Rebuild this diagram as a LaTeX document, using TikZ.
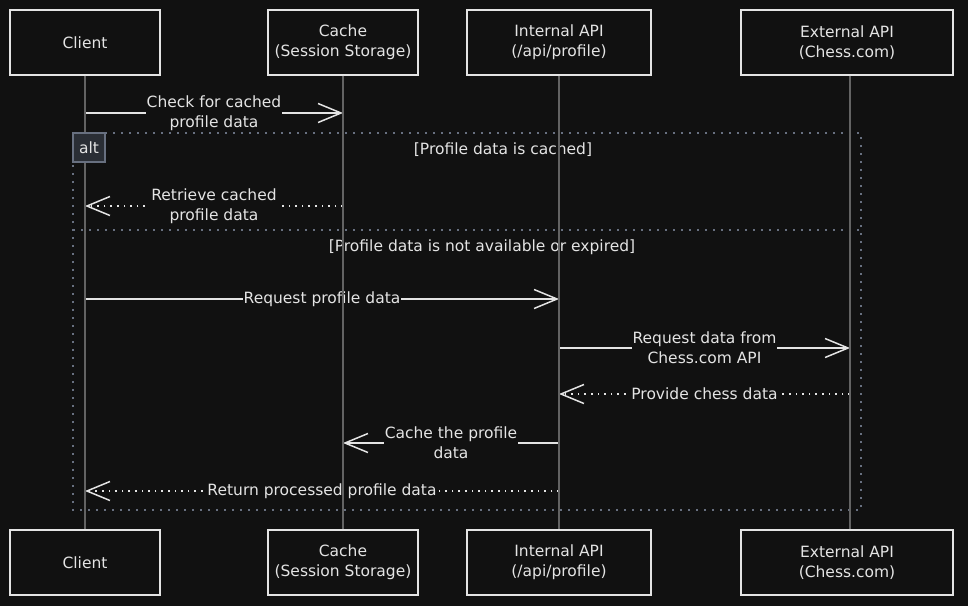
\documentclass[tikz,border=0pt]{standalone}
\usepackage{fontspec}
\setmainfont{DejaVu Sans}
\usepackage{tikz}
\usetikzlibrary{arrows.meta}
\definecolor{bg}{HTML}{111111}
\definecolor{ink}{HTML}{E4E4E4}
\definecolor{lifegray}{HTML}{636363}
\definecolor{framegray}{HTML}{687080}
\definecolor{altfill}{HTML}{2A2E35}
\tikzstyle{actor}=[draw=ink, fill=bg, line width=1.2pt, minimum height=65pt, align=center, text=ink]
\tikzstyle{lifeline}=[draw=lifegray, line width=1.1pt]
\tikzstyle{msg}=[->, color=ink, line width=1.5pt]
\tikzstyle{reply}=[msg, dash pattern=on 1.6pt off 5pt]
\tikzstyle{lbl}=[fill=bg, text=ink, align=center, inner sep=1pt]
\tikzstyle{frame}=[draw=framegray, line width=2pt, dash pattern=on 2pt off 6pt]

\begin{document}
\begin{tikzpicture}[x=1pt,y=-1pt,font=\fontsize{15.5}{20}\selectfont,
  >={Straight Barb[length=23pt,width=19pt,line width=1.5pt]}]
    \useasboundingbox[fill=bg] (0,0) rectangle (968,606);
    % participants, top and bottom
    \node [actor, minimum width=150pt] (client) at (85,42.5) {Client};
    \node [actor, minimum width=150pt] (cache) at (343,42.5) {Cache\\(Session Storage)};
    \node [actor, minimum width=184pt] (internal) at (559,42.5) {Internal API\\(/api/profile)};
    \node [actor, minimum width=212pt] (external) at (847,42.5) {External API\\(Chess.com)};
    \node [actor, minimum width=150pt] (clientB) at (85,562.5) {Client};
    \node [actor, minimum width=150pt] (cacheB) at (343,562.5) {Cache\\(Session Storage)};
    \node [actor, minimum width=184pt] (internalB) at (559,562.5) {Internal API\\(/api/profile)};
    \node [actor, minimum width=212pt] (externalB) at (847,562.5) {External API\\(Chess.com)};
    % points on the lifelines
    \coordinate (cl1) at (85,113);  \coordinate (ca1) at (343,113);
    \coordinate (cl2) at (85,206);  \coordinate (ca2) at (343,206);
    \coordinate (cl3) at (85,299);  \coordinate (in3) at (559,299);
    \coordinate (in4) at (559,348); \coordinate (ex4) at (850,348);
    \coordinate (in5) at (559,394); \coordinate (ex5) at (850,394);
    \coordinate (ca6) at (343,443); \coordinate (in6) at (559,443);
    \coordinate (cl7) at (85,491);  \coordinate (in7) at (559,491);
    % alt frame
    \draw [frame] (73,133) rectangle (861,510);
    \coordinate (sepL) at (73,230);
    \coordinate (sepR) at (861,230);
    \draw [frame] (sepL) -- (sepR);
    \node [text=ink] (cond1) at (503,150) {[Profile data is cached]};
    \node [text=ink] (cond2) at (482,247) {[Profile data is not available or expired]};
    % messages
    \path [msg] (cl1) edge node [lbl] {Check for cached\\profile data} (ca1);
    \path [reply] (ca2) edge node [lbl] {Retrieve cached\\profile data} (cl2);
    \path [msg] (cl3) edge node [lbl] {Request profile data} (in3);
    \path [msg] (in4) edge node [lbl] {Request data from\\Chess.com API} (ex4);
    \path [reply] (ex5) edge node [lbl] {Provide chess data} (in5);
    \path [msg] (in6) edge node [lbl] {Cache the profile\\data} (ca6);
    \path [reply] (in7) edge node [lbl] {Return processed profile data} (cl7);
    % lifelines
    \draw [lifeline] (client) -- (clientB);
    \draw [lifeline] (cache) -- (cacheB);
    \draw [lifeline] (internal) -- (internalB);
    \draw [lifeline] (external.south -| ex4) -- (externalB.north -| ex4);
    % alt tag on top
    \node [draw=framegray, fill=altfill, line width=1.2pt, text=ink, minimum width=32pt, minimum height=29pt, inner sep=0pt] (alt) at (89,147.5) {alt};
\end{tikzpicture}
\end{document}
